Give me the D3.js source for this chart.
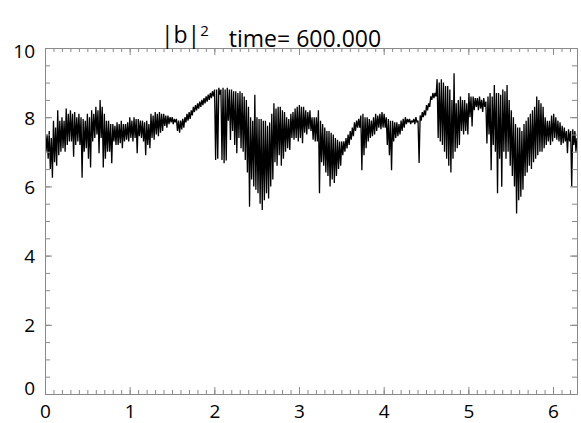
<!DOCTYPE html>
<html>
<head>
<meta charset="utf-8">
<script src="https://cdn.jsdelivr.net/npm/d3@7"></script>
<style>
body { margin: 0; background: #fff; }
text { font-family: "Open Sans", "Noto Sans", sans-serif; fill: #000; }
</style>
</head>
<body>
<svg id="chart" width="581" height="423"></svg>
<script>
// tick values
const xMajor = [0, 1, 2, 3, 4, 5, 6];
const yMajor = [0, 2, 4, 6, 8, 10];
const xMinor = d3.range(0, 63).map(d => d / 10);
const yMinor = d3.range(0, 21).map(d => d / 2);

const titleMain = "|b|";
const titleSup = "2";
const titleTime = "time= 600.000";

// |b|^2 along the box (evenly spaced from 0 to 2pi)
const b2 = [
  7.7, 7.0, 7.5, 6.8,   7.6, 6.5, 7.4, 6.25,  7.9, 6.7, 7.7, 6.6,   8.2, 6.9, 7.9, 7.0,   8.0, 7.1, 7.9, 7.0,
  8.25, 7.2, 8.1, 7.3,  8.2, 7.3, 8.1, 6.86,  8.15, 7.2, 8.0, 7.3,  8.1, 7.2, 8.0, 6.25,  7.95, 7.0, 7.9, 7.1,
  8.1, 6.8, 8.0, 6.55,  8.2, 7.3, 8.1, 7.4,   8.3, 7.5, 8.2, 6.96,  8.5, 7.4, 8.3, 6.55,  8.1, 6.8, 7.9, 7.0,
  7.9, 7.0, 7.8, 6.67,  7.8, 7.3, 7.75, 7.2,  7.85, 7.2, 7.8, 7.25, 7.9, 7.1, 7.8, 7.3,   7.8, 7.35, 7.85, 7.3,
  8.0, 7.4, 7.9, 7.3,   8.0, 7.4, 7.95, 6.96, 7.95, 7.45, 7.9, 7.4, 7.9, 7.3, 7.85, 6.9,  7.9, 7.2, 7.8, 7.1,
  8.1, 7.4, 8.05, 7.35, 8.15, 7.5, 8.1, 7.45, 8.15, 7.55, 8.1, 7.6, 8.1, 7.75, 8.05, 7.7, 8.05, 7.8, 8.0, 7.85,
  8.0, 7.8, 7.95, 7.85, 7.95, 7.6, 7.9, 7.55, 7.9, 7.65, 7.95, 7.7, 8.0, 7.85, 8.1, 7.9,  8.15, 7.95, 8.2, 8.05,
  8.3, 8.15, 8.35, 8.2, 8.4, 8.25, 8.45, 8.3, 8.5, 8.35, 8.55, 8.4, 8.6, 8.45, 8.65, 8.5, 8.7, 8.55, 8.75, 8.6,
  8.8, 6.76, 8.8, 6.8,  8.85, 8.65, 8.8, 6.76, 8.85, 6.67, 8.8, 6.75, 8.85, 7.9, 8.8, 7.34, 8.8, 7.6, 8.75, 7.2,
  8.75, 6.96, 8.7, 7.4, 8.75, 7.1, 8.7, 7.0,  8.6, 6.76, 8.5, 6.4,  8.3, 5.41, 8.0, 6.2,  7.9, 6.0, 8.65, 5.9,
  8.0, 5.8, 7.95, 5.5,  7.95, 5.32, 7.9, 5.6, 7.9, 5.8, 7.75, 5.65, 7.85, 6.0, 8.1, 6.2,  8.4, 6.7, 8.25, 6.6,
  8.3, 6.9, 8.3, 6.6,   8.2, 6.8, 8.15, 7.0,  8.0, 7.1, 7.95, 7.05, 8.1, 7.4, 8.15, 7.35, 8.25, 7.4, 8.3, 7.3,
  8.35, 7.4, 8.3, 7.25, 8.3, 7.55, 8.2, 7.5, 8.15, 7.65, 8.2, 7.6, 8.0, 7.35, 8.0, 7.3,  8.0, 7.3, 8.2, 5.8,
  7.9, 6.7, 7.8, 6.6,   7.7, 6.4, 7.6, 6.3,   7.6, 6.0, 7.55, 6.2,  7.5, 6.1, 7.4, 6.3,   7.35, 6.5, 7.3, 6.6,
  7.3, 6.9, 7.3, 7.0,   7.4, 7.1, 7.5, 7.2,   7.6, 7.35, 7.7, 7.45, 7.85, 7.6, 7.9, 7.7, 7.95, 7.7, 8.05, 6.47,
  8.1, 6.9, 8.0, 7.1,   8.0, 7.3, 7.95, 7.4,  7.9, 7.45, 8.0, 7.5,  8.1, 7.6, 8.05, 7.7,  8.1, 7.65, 8.15, 7.7,
  8.1, 7.7, 8.0, 7.2,   7.95, 6.9, 7.9, 6.47, 7.9, 7.3, 7.85, 7.4,  7.85, 7.45, 7.8, 7.5, 7.9, 7.6, 7.95, 7.7,
  8.0, 7.8, 7.95, 7.85, 7.95, 7.8, 7.9, 7.85, 7.95, 7.8, 8.0, 7.85, 7.9, 6.68, 8.05, 7.9, 8.15, 8.0, 8.2, 8.05,
  8.35, 8.2, 8.4, 8.3,  8.6, 8.5, 8.7, 8.55,  8.7, 8.6, 9.1, 7.4,   9.0, 7.3, 9.1, 7.2,   9.0, 7.0, 8.9, 6.8,
  8.9, 6.6, 8.8, 6.4,   8.5, 6.8, 9.27, 7.0,  8.4, 7.1, 8.5, 7.2,   8.6, 7.6, 8.5, 7.5,   8.5, 7.6, 8.4, 7.5,
  8.7, 8.0, 8.6, 7.73,  8.6, 8.2, 8.55, 8.3,  8.55, 8.2, 8.6, 8.25, 8.5, 8.15, 8.55, 8.3, 8.45, 7.24, 8.6, 7.5,
  8.7, 6.47, 8.6, 7.2,  8.93, 7.0, 8.7, 5.8,  8.7, 6.8, 8.65, 5.99, 8.8, 7.0, 8.75, 6.8,  8.93, 7.0, 8.5, 6.6,
  8.2, 6.3, 8.0, 6.0,   7.8, 5.22, 7.7, 5.6,  7.7, 5.7, 7.6, 5.9,   7.8, 6.3, 7.9, 6.4,   8.0, 6.6, 8.1, 6.5,
  8.2, 6.7, 8.3, 6.8,   8.6, 6.9, 8.5, 7.0,   8.4, 7.0, 8.3, 7.1,   8.0, 7.2, 7.9, 7.3,   7.9, 7.2, 8.05, 7.3,
  8.1, 7.4, 8.0, 7.35,  7.9, 7.3, 7.85, 7.2,  7.75, 7.25, 7.7, 7.3, 7.6, 6.96, 7.65, 7.3, 7.6, 6.0, 7.65, 7.2,
  7.6, 7.0, 7.4
];

const margin = {top: 48, right: 4, bottom: 29, left: 45};
const width = 581 - margin.left - margin.right;
const height = 423 - margin.top - margin.bottom;
const axisColor = "#8a8a8a";
const labelSize = "19px";

const svg = d3.select("#chart");
const g = svg.append("g").attr("transform", `translate(${margin.left},${margin.top})`);

const x = d3.scaleLinear().domain([0, 2 * Math.PI]).range([0, width]);
const y = d3.scaleLinear().domain([0, 10]).range([height, 0]);
const pos = d3.scaleLinear().domain([0, b2.length - 1]).range([0, 2 * Math.PI]);

svg.append("defs").append("clipPath").attr("id", "clip")
  .append("rect").attr("width", width).attr("height", height);

// data line
const line = d3.line()
  .x((d, i) => x(pos(i)))
  .y(d => y(d));

g.append("path")
  .datum(b2)
  .attr("clip-path", "url(#clip)")
  .attr("fill", "none")
  .attr("stroke", "#000")
  .attr("stroke-width", 1.3)
  .attr("stroke-linejoin", "bevel")
  .attr("d", line);

// axes, ticks pointing inward on all four sides
function styleAxis(sel) {
  sel.selectAll("path, line").attr("stroke", axisColor);
  sel.selectAll("text").style("font-size", labelSize).attr("fill", "#000");
}

g.append("g").attr("transform", `translate(0,${height})`)
  .call(d3.axisBottom(x).tickValues(xMinor).tickSize(-4).tickSizeOuter(0).tickFormat(""))
  .call(styleAxis);
g.append("g").attr("transform", `translate(0,${height})`)
  .call(d3.axisBottom(x).tickValues(xMajor).tickSize(-7).tickSizeOuter(0).tickPadding(10).tickFormat(d3.format("d")))
  .call(styleAxis)
  .call(a => a.selectAll("text").attr("dy", "0.72em"));

g.append("g")
  .call(d3.axisTop(x).tickValues(xMinor).tickSize(-4).tickSizeOuter(0).tickFormat(""))
  .call(styleAxis);
g.append("g")
  .call(d3.axisTop(x).tickValues(xMajor).tickSize(-7).tickSizeOuter(0).tickFormat(""))
  .call(styleAxis);

g.append("g")
  .call(d3.axisLeft(y).tickValues(yMinor).tickSize(-5).tickSizeOuter(0).tickFormat(""))
  .call(styleAxis);
g.append("g")
  .call(d3.axisLeft(y).tickValues(yMajor).tickSize(-7).tickSizeOuter(0).tickPadding(10).tickFormat(d3.format("d")))
  .call(styleAxis)
  .call(a => a.selectAll("text")
    .attr("dy", d => d === 0 ? "0em" : d === 10 ? "0.5em" : "0.36em"));

g.append("g").attr("transform", `translate(${width},0)`)
  .call(d3.axisRight(y).tickValues(yMinor).tickSize(-5).tickSizeOuter(0).tickFormat(""))
  .call(styleAxis);
g.append("g").attr("transform", `translate(${width},0)`)
  .call(d3.axisRight(y).tickValues(yMajor).tickSize(-7).tickSizeOuter(0).tickFormat(""))
  .call(styleAxis);

// title
const title = svg.append("text")
  .attr("x", 271)
  .attr("y", 43)
  .attr("text-anchor", "middle")
  .style("font-size", "23px");
title.append("tspan").text(titleMain);
title.append("tspan").attr("dy", "-0.5em").style("font-size", "15px").text(titleSup);
title.append("tspan").attr("dy", "0.5em").attr("dx", "20").text(titleTime);
</script>
</body>
</html>
